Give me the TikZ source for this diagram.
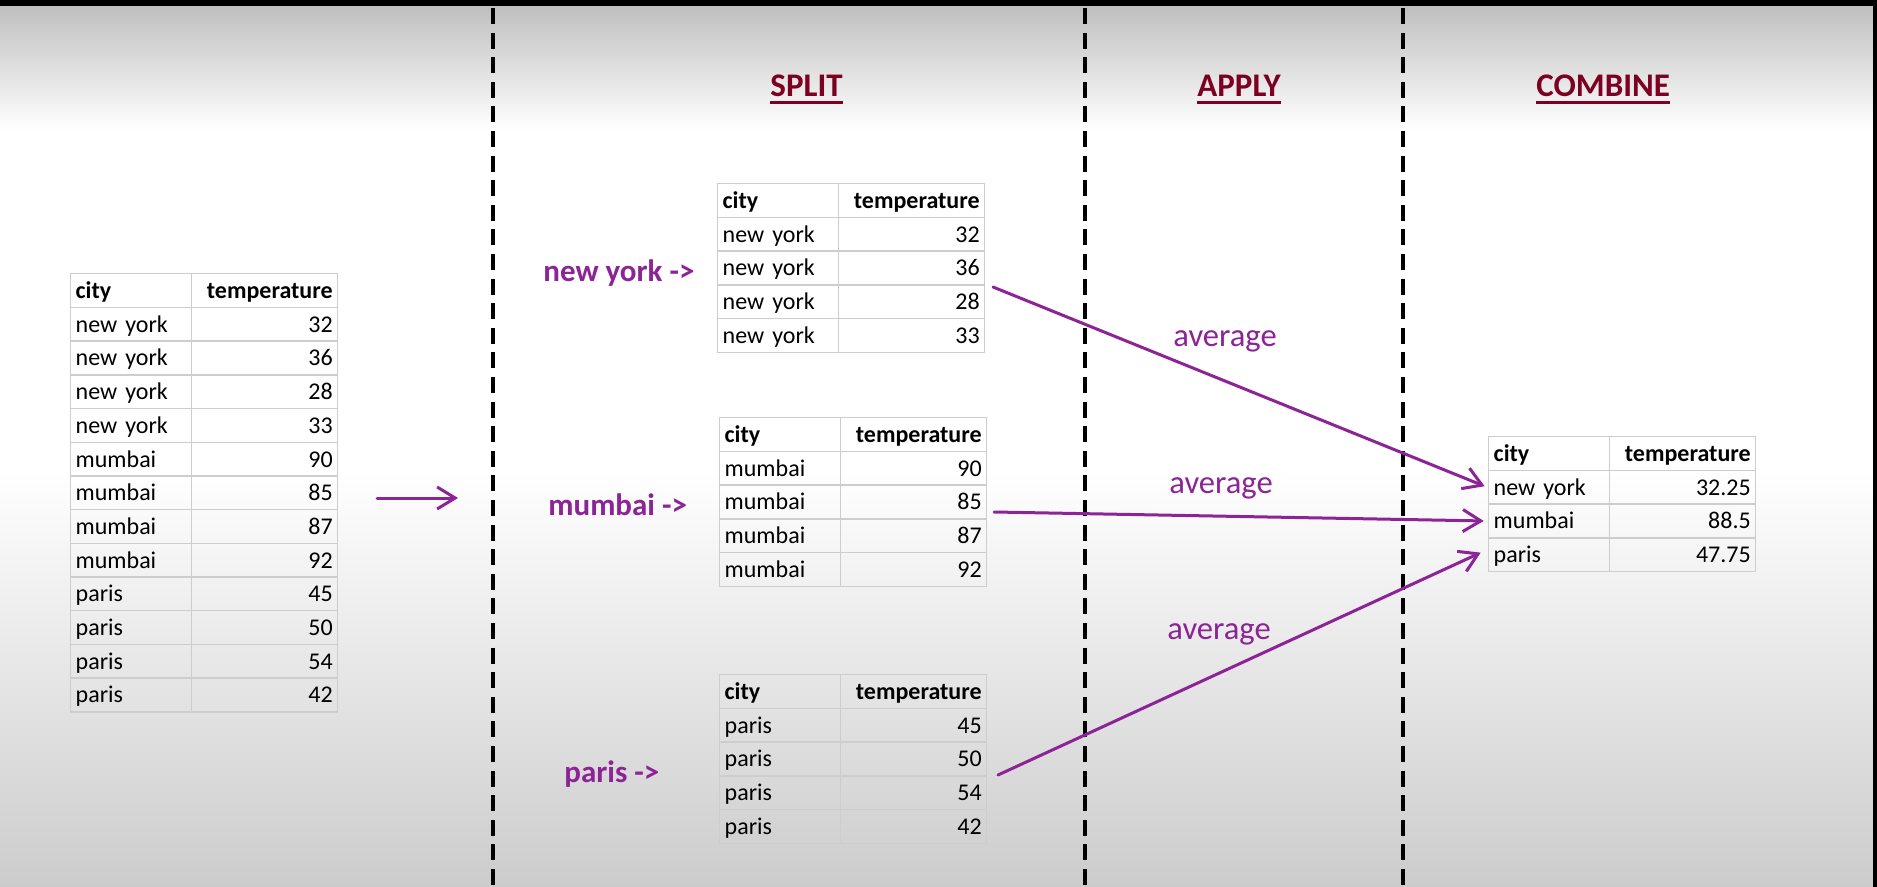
\documentclass[tikz,border=0pt]{standalone}
\usepackage{fontspec}
\setmainfont{Carlito}
\usetikzlibrary{matrix,arrows.meta}
\definecolor{purp}{RGB}{140,35,150}
\definecolor{hdrred}{RGB}{125,0,35}
\definecolor{gridc}{RGB}{205,205,205}
\newcommand{\tabfont}{\fontsize{12pt}{14pt}\selectfont}
\newcommand{\lblfont}{\fontsize{15.5pt}{18pt}\selectfont\bfseries}
\newcommand{\hdrfont}{\fontsize{16.5pt}{19pt}\selectfont\bfseries}
\newcommand{\avgfont}{\fontsize{16.3pt}{19pt}\selectfont}
\begin{document}
\begin{tikzpicture}[x=0.5pt,y=-0.5pt,
  tbl/.style={matrix of nodes, anchor=north west, inner sep=0pt, outer sep=0pt,
    column sep=-0.7pt, row sep=-0.7pt,
    nodes={draw=gridc, line width=0.7pt, minimum height=16.85pt, inner ysep=0pt,
      inner xsep=2.5pt, outer sep=0pt, text height=9.5pt, text depth=1.5pt,
      font=\tabfont, anchor=center},
    column 1/.style={nodes={text width=55.5pt, align=left}},
    column 2/.style={nodes={text width=68pt, align=right}},
    row 1/.style={nodes={font=\tabfont\bfseries}}},
  hdr/.style={anchor=base west, inner sep=0pt, text=hdrred, font=\hdrfont},
  uline/.style={draw=hdrred, line width=1.5pt},
  lbl/.style={anchor=base west, inner sep=0pt, text=purp, font=\lblfont},
  avg/.style={anchor=base west, inner sep=0pt, text=purp, font=\avgfont},
  arr/.style={draw=purp, line width=1.5pt, line cap=round,
    -{Straight Barb[length=9pt,width=11pt]}},
  divider/.style={draw=black, line width=1.7pt, dash pattern=on 8pt off 4.3pt}]
\useasboundingbox (0,0) rectangle (1877,887);
% background
\fill[white] (0,0) rectangle (1877,887);
\shade[top color=gray!50, bottom color=white] (0,6) rectangle (1877,130);
\shade[top color=white, bottom color=gray!40] (0,470) rectangle (1877,887);
\fill[black] (0,0) rectangle (1877,6);
\fill[black] (1873,0) rectangle (1877,887);
% dividers
\coordinate (d1t) at (493,8);  \coordinate (d1b) at (493,887);
\coordinate (d2t) at (1085,8); \coordinate (d2b) at (1085,887);
\coordinate (d3t) at (1403,8); \coordinate (d3b) at (1403,887);
\draw[divider] (d1t) -- (d1b);
\draw[divider] (d2t) -- (d2b);
\draw[divider] (d3t) -- (d3b);
% headers
\node[hdr] (split) at (770,97) {SPLIT};
\node[hdr] (apply) at (1197,97) {APPLY};
\node[hdr] (combine) at (1536,97) {COMBINE};
\draw[uline] ([yshift=-3pt]split.base west) -- ([yshift=-3pt]split.base east);
\draw[uline] ([yshift=-3pt]apply.base west) -- ([yshift=-3pt]apply.base east);
\draw[uline] ([yshift=-3pt]combine.base west) -- ([yshift=-3pt]combine.base east);
% source table
\matrix[tbl] (t0) at (70,273) {
city & temperature \\
new york & 32 \\
new york & 36 \\
new york & 28 \\
new york & 33 \\
mumbai & 90 \\
mumbai & 85 \\
mumbai & 87 \\
mumbai & 92 \\
paris & 45 \\
paris & 50 \\
paris & 54 \\
paris & 42 \\
};
% split tables
\matrix[tbl] (t1) at (717,183) {
city & temperature \\
new york & 32 \\
new york & 36 \\
new york & 28 \\
new york & 33 \\
};
\matrix[tbl] (t2) at (719,417) {
city & temperature \\
mumbai & 90 \\
mumbai & 85 \\
mumbai & 87 \\
mumbai & 92 \\
};
\matrix[tbl] (t3) at (719,674) {
city & temperature \\
paris & 45 \\
paris & 50 \\
paris & 54 \\
paris & 42 \\
};
% combined table
\matrix[tbl] (tc) at (1488,436) {
city & temperature \\
new york & 32.25 \\
mumbai & 88.5 \\
paris & 47.75 \\
};
% labels
\node[lbl] (lny) at (543,282) {new york ->};
\node[lbl] (lmu) at (548,515) {mumbai ->};
\node[lbl] (lpa) at (564,782) {paris ->};
\node[avg] (av1) at (1173,347) {average};
\node[avg] (av2) at (1169,493) {average};
\node[avg] (av3) at (1167,639) {average};
% arrows
\coordinate (s0) at (377,498);
\coordinate (e0) at (458,498);
\draw[arr] (s0) -- (e0);
\coordinate (s1) at (993,287);
\coordinate (s2) at (994,512);
\coordinate (s3) at (998,775);
\draw[arr] (s1) -- ([xshift=-2pt,yshift=0.5pt]tc-2-1.west);
\draw[arr] (s2) -- ([xshift=-2.5pt]tc-3-1.west);
\draw[arr] (s3) -- ([xshift=-4pt,yshift=1pt]tc-4-1.west);
\end{tikzpicture}
\end{document}
